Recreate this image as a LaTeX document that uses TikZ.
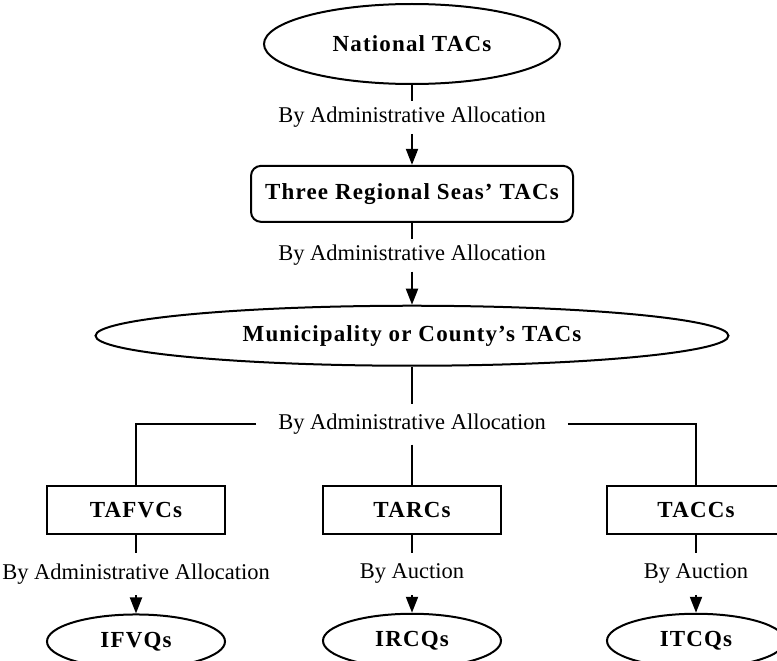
\documentclass[tikz,border=0pt]{standalone}
\usepackage{fontspec}
\setmainfont{Liberation Serif}
\newfontfamily\headfont[LetterSpace=5]{Liberation Serif}
\usetikzlibrary{arrows.meta,positioning,shapes.geometric}

\begin{document}
\begin{tikzpicture}[x=1pt, y=-1pt,
  oval/.style={ellipse, draw, line width=2pt, inner sep=0pt,
               font=\headfont\bfseries\fontsize{23}{26}\selectfont},
  box/.style={rectangle, draw, line width=2pt, inner sep=0pt,
              font=\headfont\bfseries\fontsize{23}{26}\selectfont},
  via/.style={font=\fontsize{22.5}{26}\selectfont, inner xsep=0pt, inner ysep=6pt},
  link/.style={line width=2pt},
  arr/.style={line width=2pt, -{Triangle[length=16pt,width=12pt]}},
  node distance=16pt
]
  \useasboundingbox (0,0) rectangle (777,661);

  %% Top of the chain
  \node[oval, minimum width=296pt, minimum height=80pt] (nat) at (412,44) {National TACs};
  \node[via, below=16pt of nat] (v1) {By Administrative Allocation};
  \node[box, rounded corners=10pt, minimum width=322pt, minimum height=56pt,
        below=31pt of v1] (reg) {Three Regional Seas’ TACs};
  \node[via, below=16pt of reg] (v2) {By Administrative Allocation};
  \node[oval, minimum width=633pt, minimum height=60pt, below=33pt of v2]
    (muni) {Municipality or County’s TACs};
  \node[via, inner xsep=22pt, inner ysep=10pt, below=37pt of muni]
    (v3) {By Administrative Allocation};

  %% Three quota boxes
  \node[box, minimum width=178pt, minimum height=48pt, below=40pt of v3] (tarc) {TARCs};
  \node[box, minimum width=178pt, minimum height=48pt, left=96pt of tarc] (tafvc) {TAFVCs};
  \node[box, minimum width=178pt, minimum height=48pt, right=104pt of tarc] (tacc) {TACCs};

  %% How the quotas are handed out
  \node[via, inner ysep=11pt, below=18pt of tafvc] (v4) {By Administrative Allocation};
  \node[via, inner ysep=11pt, below=18pt of tarc] (v5) {By Auction};
  \node[via, inner ysep=11pt, below=18pt of tacc] (v6) {By Auction};

  \node[oval, minimum width=178pt, minimum height=54pt, below=18pt of v4] (ifvq) {IFVQs};
  \node[oval, minimum width=178pt, minimum height=54pt, below=18pt of v5] (ircq) {IRCQs};
  \node[oval, minimum width=178pt, minimum height=54pt, below=18pt of v6] (itcq) {ITCQs};

  %% Connectors
  \draw[link] (nat) -- (v1);
  \draw[arr] (v1) -- (reg);
  \draw[link] (reg) -- (v2);
  \draw[arr] (v2) -- (muni);
  \draw[link] (muni) -- (v3);
  \draw[link] (v3) -- (tarc);
  \draw[link] (v3.west) -| (tafvc);
  \draw[link] (v3.east) -| (tacc);
  \draw[link] (tafvc) -- (v4);
  \draw[link] (tarc) -- (v5);
  \draw[link] (tacc) -- (v6);
  \draw[arr] (v4) -- (ifvq);
  \draw[arr] (v5) -- (ircq);
  \draw[arr] (v6) -- (itcq);
\end{tikzpicture}
\end{document}
